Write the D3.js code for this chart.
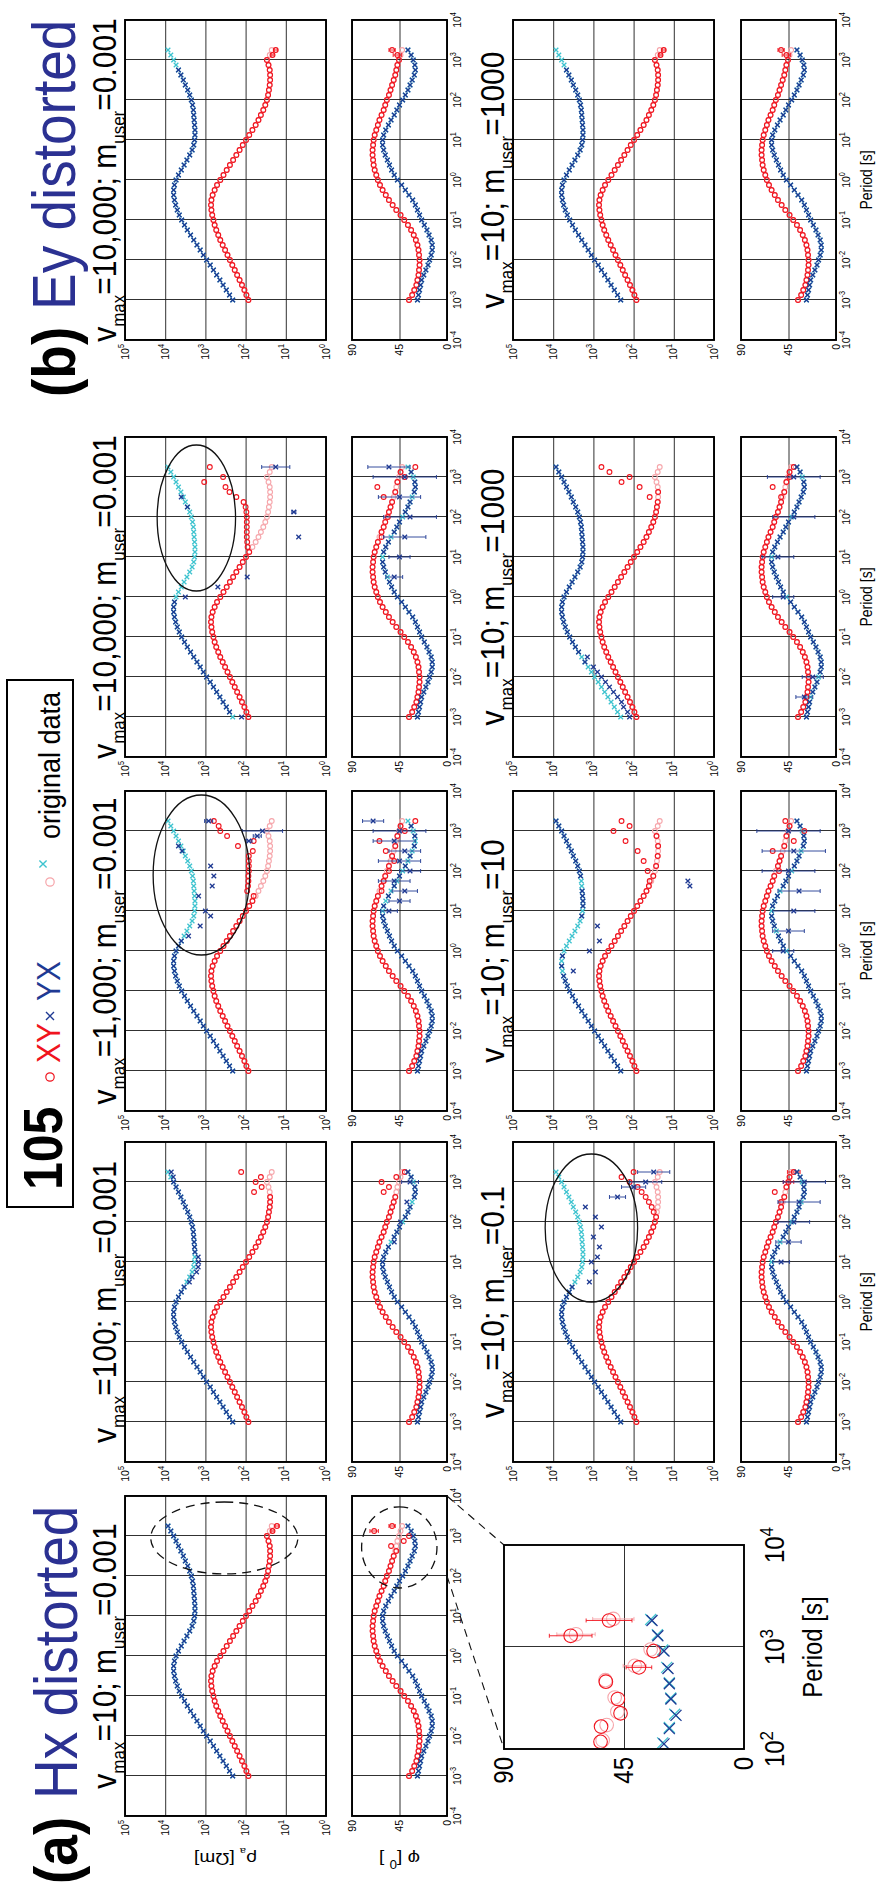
<!DOCTYPE html>
<html><head><meta charset="utf-8">
<script src="https://cdn.jsdelivr.net/npm/d3@7"></script>
<style>
body{margin:0;background:#fff}
svg{display:block}
text{font-family:"Liberation Sans",Arial,Helvetica,sans-serif}
</style></head>
<body><svg id="c" width="884" height="1887"></svg>
<script>
// ---------------- DATA ----------------
const PER = [-3,-2.875,-2.75,-2.625,-2.5,-2.375,-2.25,-2.125,-2,-1.875,-1.75,-1.625,-1.5,-1.375,-1.25,-1.125,-1,-0.875,-0.75,-0.625,-0.5,-0.375,-0.25,-0.125,0,0.125,0.25,0.375,0.5,0.625,0.75,0.875,1,1.125,1.25,1.375,1.5,1.625,1.75,1.875,2,2.125,2.25,2.375,2.5,2.625,2.75,2.875,3,3.125,3.25];
const ORIG_XY_RHO = [1.93,1.98,2.03,2.09,2.15,2.21,2.27,2.33,2.39,2.45,2.51,2.57,2.63,2.68,2.73,2.77,2.80,2.83,2.85,2.86,2.85,2.82,2.77,2.71,2.63,2.55,2.47,2.39,2.31,2.23,2.15,2.07,1.99,1.91,1.83,1.75,1.68,1.62,1.56,1.51,1.47,1.44,1.42,1.40,1.39,1.39,1.40,1.43,1.47,1.40,1.35];
const ORIG_YX_RHO = [2.32,2.40,2.48,2.56,2.64,2.72,2.80,2.88,2.97,3.05,3.13,3.21,3.29,3.37,3.45,3.52,3.59,3.65,3.70,3.74,3.77,3.79,3.79,3.77,3.73,3.67,3.60,3.53,3.46,3.39,3.33,3.29,3.27,3.26,3.26,3.27,3.28,3.29,3.30,3.32,3.35,3.39,3.44,3.50,3.55,3.61,3.67,3.73,3.79,3.86,3.93];
const ORIG_XY_PHI = [36,33,31,29,28,27,26.5,26,26,26.5,27,28,29.5,31.5,34,37,40.5,44,48,51.5,55,58,61,63.5,65.5,67,68.5,69.5,70,70.5,70.5,70,69.5,68.5,67,65.5,64,62,60,58.5,57,55,53.5,52,50.5,49,48,47,45.5,44,42.5];
const ORIG_YX_PHI = [28,27,26,25,24,22,20,18,16.5,15,14,14,15,17,19,21.5,24,26,28,30,32.5,36,39.5,43,47,50,52.5,54.5,56.5,58.5,60,61,61,60,58,55.5,53,50,47.5,45,42,39.5,37,35,33,31,30,30.5,32,34,37];

const PANEL_COL   = [0,1,2,3,4,1,2,3,4];
const PANEL_ROW   = [0,0,0,0,0,1,1,1,1];
const PANEL_VMAX  = ['10','100','1,000','10,000','10,000','10','10','10','10'];
const PANEL_MUSER = ['0.001','0.001','0.001','0.001','0.001','0.1','10','1000','1000'];
// recovered data that differ from the original: [periodExp, value (null = not shown), error]
const PANEL_XY_RHO = [
  [[3.125,1.33,0.04],[3.25,1.22,0.05]],
  [[2.75,1.79],[2.875,1.6],[3,1.75],[3.125,1.62],[3.25,2.11]],
  [[1.375,1.80],[1.5,1.96],[1.625,1.94],[1.75,1.93],[1.875,1.93],[2,1.92],[2.125,1.92],[2.25,1.92],[2.375,1.92],[2.5,1.82],[2.625,2.19],[2.75,1.80],[2.875,2.46],[3,2.63],[3.125,2.67],[3.25,2.79]],
  [[1.25,1.95],[1.375,1.96],[1.5,1.97],[1.625,1.97],[1.75,1.97],[1.875,1.97],[2,1.97],[2.125,1.98],[2.25,2.0],[2.375,2.05],[2.5,2.23],[2.625,2.4],[2.75,2.5],[2.875,3.03],[3,2.56],[3.125,null],[3.25,2.89]],
  [[3.125,1.33,0.04],[3.25,1.25,0.04]],
  [[2.25,1.5],[2.375,1.55],[2.5,1.62],[2.625,1.7],[2.75,1.8],[2.875,1.9],[3,2.1],[3.125,2.3],[3.25,2.0]],
  [[1.75,1.6],[2,1.65],[2.25,1.75],[2.5,1.9],[2.75,2.2],[3,2.5],[3.125,2.1],[3.25,2.3]],
  [[2.5,1.6],[2.75,1.85],[2.875,2.3],[3,2.1],[3.125,2.6],[3.25,2.8]],
  [[3.125,1.33,0.04],[3.25,1.25,0.04]]
];
const PANEL_YX_RHO = [
  [],
  [[0.5,3.40],[0.625,3.33],[0.75,3.22],[0.875,3.18],[1,3.17],[1.125,3.18],[3.125,3.80],[3.25,3.85]],
  [[0.375,3.42],[0.5,null],[0.625,3.13],[0.75,null],[0.875,2.87],[1,3.0],[1.125,null],[1.25,null],[1.375,3.17],[1.5,null],[1.625,2.83],[1.75,null],[1.875,2.79],[2,null],[2.125,2.87],[2.25,null],[2.375,null],[2.5,3.58],[2.625,3.67],[2.75,1.92,0.08],[2.875,1.71,0.1],[3,1.58,0.5],[3.125,null],[3.25,2.92,0.1]],
  [[-3,2.1],[0,3.5],[0.125,null],[0.25,2.69],[0.375,null],[0.5,1.96],[0.625,null],[0.75,null],[0.875,null],[1,null],[1.125,null],[1.25,null],[1.375,null],[1.5,0.68],[1.625,null],[1.75,null],[1.875,null],[2,null],[2.125,0.8,0.05],[2.25,3.45],[2.375,null],[2.5,3.6],[2.625,null],[2.75,null],[2.875,null],[3,null],[3.125,null],[3.25,1.25,0.35]],
  [[2.875,null],[3,null],[3.125,null],[3.25,null]],
  [[0.5,3.1],[0.625,null],[0.75,2.95],[0.875,null],[1,3.05],[1.125,2.9],[1.25,null],[1.375,2.85],[1.5,null],[1.625,3.0],[1.75,null],[1.875,2.8],[2,null],[2.125,2.95],[2.25,null],[2.375,3.2],[2.5,null],[2.625,2.4,0.2],[2.75,null],[2.875,2.0,0.3],[3,1.7,0.4],[3.125,null],[3.25,1.5,0.4]],
  [[-0.5,3.5],[-0.25,null],[0,3.1],[0.125,null],[0.25,2.85],[0.375,null],[0.5,null],[0.625,2.9],[0.75,null],[1,null],[1.625,0.6],[1.75,0.65]],
  [[-3,2.1],[-2.875,2.15],[-2.75,2.25],[-2.625,2.3],[-2.5,2.4],[-2.375,2.5],[-2.25,2.6],[-2.125,2.7],[-2,2.8],[-1.875,2.9],[-1.75,3.0],[-1.5,3.15]],
  [[2.875,null],[3,null],[3.125,null],[3.25,null]]
];
const PANEL_XY_PHI = [
  [[2.625,48],[2.75,53],[2.875,41],[3,36],[3.125,69,4],[3.25,52,3]],
  [[2.75,60],[2.875,55],[3,62],[3.125,48],[3.25,40]],
  [[1.5,62],[1.75,60],[2,55],[2.25,50],[2.5,58],[2.75,64],[3,40],[3.25,30]],
  [[1.5,62],[2,56],[2.5,60],[2.75,66],[3,40],[3.25,30]],
  [[3.125,47,4],[3.25,52,3]],
  [[2.5,52],[2.75,58],[3,45,5],[3.25,40,6]],
  [[2,54],[2.5,60],[2.75,40],[3,30],[3.25,48]],
  [[2.5,52],[2.75,60],[3,44],[3.25,40]],
  [[3.125,47,4],[3.25,52,3]]
];
const PANEL_YX_PHI = [
  [],
  [[1.5,50],[2,44],[2.5,38],[3,35,8]],
  [[1,55,8],[1.25,45,10],[1.5,40,12],[1.75,50,15],[2,35,10],[2.25,45,20],[2.5,40,15],[2.75,50,20],[3,45,25],[3.25,70,10]],
  [[0.5,50,8],[1,45,10],[1.5,40,20],[2,35,25],[2.5,45,20],[3,40,30],[3.25,55,20]],
  [],
  [[1,52,8],[1.5,45,12],[2,40,15],[2.5,35,20],[3,30,20]],
  [[0,50,10],[0.5,45,15],[1,40,20],[1.5,35,20],[2,45,25],[2.5,40,30],[3,45,30]],
  [[-2.5,30,8],[-2,22,10],[0,50,10],[1,55,15],[2,40,20],[3,40,25]],
  []
];
const ELL_PANEL = [0,0,2,3,5];
const ELL_PART  = ['rho','phi','rho','rho','rho'];
const ELL_PER   = [[2.05,3.85],[1.7,3.73],[-0.1,3.9],[0.15,3.8],[0.0,3.7]];
const ELL_VAL   = [[0.7,4.36],[9.5,80.9],[1.9,4.3],[2.25,4.2],[1.9,4.2]];
const ELL_DASH  = [true,true,false,false,false];

const INSET_XY_PER = [2.07,2.22,2.35,2.49,2.66,2.80,2.96,3.11,3.26];
const INSET_XY_PHI = [53.8,53.6,46.3,47.3,51.8,39.4,33.9,65,50.6];
const INSET_XY_ERR = [0,0,0,0,0,4.8,0,8,8.6];
const INSET_OXY_PHI = [53,51.5,47.5,48.5,52,41,35,63,49];
const INSET_YX_PER = [2.05,2.2,2.33,2.49,2.64,2.79,2.96,3.11,3.26];
const INSET_YX_PHI = [30,28,25.5,27.4,28,28.5,30,32.3,34.5];
const INSET_OYX_PHI = [30.5,28,26,27.5,28,29,30.5,32.5,35];

const PERIOD_TICKS = [-4,-3,-2,-1,0,1,2,3,4];
const RHO_TICKS = [0,1,2,3,4,5];
const PHI_TICKS = [0,45,90];

// ---------------- LAYOUT ----------------
const W = 884, H = 1887, K = 1.12;
const COL_TOP = [1496, 1142, 791, 437, 20];
const PANEL_LEN = 320;
const RHO_V = [[125,326],[513,714]];
const PHI_V = [[352,447],[741,836]];
const C_RED = '#f0141e', C_BLUE = '#1f3a93', C_CYAN = '#3ec3cf', C_PINK = '#f6a5aa', C_TITLE = '#2b3192';

const svg = d3.select('#c');
svg.append('rect').attr('width',W).attr('height',H).attr('fill','#fff');
const root = svg.append('g').attr('transform',`translate(0,${H}) rotate(-90)`);

function label(parent, u, v, parts, o) {
  const size = o.size;
  const t = parent.append('text')
    .attr('transform',`translate(${u},${v}) scale(1,${K})${o.rot?` rotate(${o.rot})`:''}`)
    .attr('font-size',size).attr('text-anchor',o.anchor||'start')
    .attr('fill',o.fill||'#000').attr('font-weight',o.weight||'normal');
  let cur = 0;
  parts.forEach(p => {
    const [s, kind, fill] = Array.isArray(p) ? p : [p, 'n'];
    const ts = t.append('tspan').text(s);
    let target = 0, fs = size;
    if (kind === 'sub') { target = size*0.28; fs = o.sub || size*0.58; }
    if (kind === 'sup') { target = -size*0.42; fs = o.sup || size*0.7; }
    ts.attr('dy', target - cur).attr('font-size', fs);
    if (fill) ts.attr('fill', fill);
    cur = target;
  });
  return t;
}
function pow10(e){ return Math.pow(10,e); }
function merge(base, mods) {
  const pts = PER.map((p,i)=>({p, v: base[i], e: 0}));
  const map = new Map(pts.map(d=>[d.p,d]));
  (mods||[]).forEach(([p,v,e,extra])=>{
    if (!extra && map.has(p)) { const d = map.get(p); if (v===null) d.v = null; else { d.v = v; d.e = e||0; } }
    else pts.push({p, v, e: e||0});
  });
  return pts.filter(d=>d.v!==null);
}
function xMark(sel, s, color, w) {
  sel.append('path').attr('d',`M${-s},${-s}L${s},${s}M${-s},${s}L${s},${-s}`)
    .attr('stroke',color).attr('stroke-width',w).attr('fill','none');
}
function gridBox(g, x, y, vTop, vBot, xTicks, yTicks) {
  const u0 = x.range()[0], u1 = x.range()[1];
  const gx = g.append('g').attr('transform',`translate(0,${vBot})`)
    .call(d3.axisBottom(x).tickValues(xTicks).tickSize(-(vBot-vTop)).tickFormat(''));
  gx.select('.domain').remove();
  gx.selectAll('line').attr('stroke','#1a1a1a').attr('stroke-width',0.9);
  const gy = g.append('g').attr('transform',`translate(${u0},0)`)
    .call(d3.axisLeft(y).tickValues(yTicks).tickSize(-(u1-u0)).tickFormat(''));
  gy.select('.domain').remove();
  gy.selectAll('line').attr('stroke','#1a1a1a').attr('stroke-width',0.9);
}
function box(g, u0, u1, vTop, vBot) {
  g.append('rect').attr('x',u0).attr('y',vTop).attr('width',u1-u0).attr('height',vBot-vTop)
    .attr('fill','none').attr('stroke','#000').attr('stroke-width',1.9);
}
function drawSeries(g, x, yf, pts, kind, color, r) {
  const sg = g.append('g');
  pts.forEach(d=>{
    const u = x(pow10(d.p)), v = yf(d.v);
    if (d.e) {
      const va = yf(d.v - d.e), vb = yf(d.v + d.e);
      sg.append('line').attr('x1',u).attr('x2',u).attr('y1',va).attr('y2',vb).attr('stroke',color).attr('stroke-width',0.9);
      [va,vb].forEach(vv=>sg.append('line').attr('x1',u-2).attr('x2',u+2).attr('y1',vv).attr('y2',vv).attr('stroke',color).attr('stroke-width',0.9));
    }
    const m = sg.append('g').attr('transform',`translate(${u},${v})`);
    if (kind==='o') m.append('circle').attr('r',r).attr('fill','none').attr('stroke',color).attr('stroke-width',1.1);
    else xMark(m, r, color, 1.3);
  });
}
function drawPanel(i) {
  const col = PANEL_COL[i], row = PANEL_ROW[i];
  const top = COL_TOP[col];
  const u0 = H - top - PANEL_LEN, u1 = H - top;
  const x = d3.scaleLog().domain([1e-4,1e4]).range([u0,u1]);
  const yr = d3.scaleLog().domain([1,1e5]).range([RHO_V[row][1], RHO_V[row][0]]);
  const yp = d3.scaleLinear().domain([0,90]).range([PHI_V[row][1], PHI_V[row][0]]);
  const yrl = e => yr(pow10(Math.max(0,Math.min(5,e))));
  const ypc = e => yp(Math.max(0,Math.min(90,e)));
  const g = root.append('g');
  const xt = PERIOD_TICKS.map(pow10);
  gridBox(g, x, yr, RHO_V[row][0], RHO_V[row][1], xt, RHO_TICKS.map(pow10));
  gridBox(g, x, yp, PHI_V[row][0], PHI_V[row][1], xt, PHI_TICKS);
  drawSeries(g, x, yrl, merge(ORIG_XY_RHO), 'o', C_PINK, 2.4);
  drawSeries(g, x, yrl, merge(ORIG_YX_RHO), 'x', C_CYAN, 2.3);
  drawSeries(g, x, ypc, merge(ORIG_XY_PHI), 'o', C_PINK, 2.4);
  drawSeries(g, x, ypc, merge(ORIG_YX_PHI), 'x', C_CYAN, 2.3);
  drawSeries(g, x, yrl, merge(ORIG_XY_RHO, PANEL_XY_RHO[i]), 'o', C_RED, 2.4);
  drawSeries(g, x, yrl, merge(ORIG_YX_RHO, PANEL_YX_RHO[i]), 'x', C_BLUE, 2.3);
  drawSeries(g, x, ypc, merge(ORIG_XY_PHI, PANEL_XY_PHI[i]), 'o', C_RED, 2.4);
  drawSeries(g, x, ypc, merge(ORIG_YX_PHI, PANEL_YX_PHI[i]), 'x', C_BLUE, 2.3);
  box(g, u0, u1, RHO_V[row][0], RHO_V[row][1]);
  box(g, u0, u1, PHI_V[row][0], PHI_V[row][1]);
  RHO_TICKS.forEach(e=>label(g, u0-4, yr(pow10(e))+3.5, ['10',[String(e),'sup']], {size:10.5, anchor:'end'}));
  PHI_TICKS.forEach(d=>label(g, u0-4, yp(d)+3.5, [String(d)], {size:10.5, anchor:'end'}));
  PERIOD_TICKS.forEach(e=>label(g, x(pow10(e)), PHI_V[row][1]+14, ['10',[String(e),'sup']], {size:10.5, anchor:'middle'}));
  label(g, (u0+u1)/2, RHO_V[row][0]-9, ['v',['max','sub'],'=' + PANEL_VMAX[i] + '; m',['user','sub'],'=' + PANEL_MUSER[i]], {size:30, sub:17, anchor:'middle'});
  if (row===1) label(g, (u0+u1)/2, PHI_V[row][1]+36, ['Period [s]'], {size:14, anchor:'middle'});
  if (i===0) {
    label(g, u0-37, (RHO_V[0][0]+RHO_V[0][1])/2, ['ρ',['a','sub'],' [Ωm]'], {size:17, anchor:'middle', rot:-90});
    label(g, u0-37, (PHI_V[0][0]+PHI_V[0][1])/2, ['φ [',['0','sup'],['  ]','n']], {size:17, anchor:'middle', rot:-90});
  }
  return {x, yr, yp};
}
const scales = PANEL_COL.map((c,i)=>drawPanel(i));

ELL_PANEL.forEach((pi,j)=>{
  const s = scales[pi];
  const yf = ELL_PART[j]==='rho' ? (e=>s.yr(pow10(e))) : (e=>s.yp(e));
  const ua = s.x(pow10(ELL_PER[j][0])), ub = s.x(pow10(ELL_PER[j][1]));
  const va = yf(ELL_VAL[j][0]), vb = yf(ELL_VAL[j][1]);
  root.append('ellipse').attr('cx',(ua+ub)/2).attr('cy',(va+vb)/2)
    .attr('rx',Math.abs(ub-ua)/2).attr('ry',Math.abs(vb-va)/2)
    .attr('fill','none').attr('stroke','#111').attr('stroke-width',1.3)
    .attr('stroke-dasharray',ELL_DASH[j]?'9,6':null);
});

(function(){
  const xi = d3.scaleLog().domain([1e2,1e4]).range([138,342]);
  const yi = d3.scaleLinear().domain([0,90]).range([744,504]);
  const g = root.append('g');
  gridBox(g, xi, yi, 504, 744, [1e3], [45]);
  const s0 = scales[0];
  [[1e2,138],[1e4,342]].forEach(([p,u])=>{
    g.append('line').attr('x1',s0.x(p)).attr('y1',PHI_V[0][1]).attr('x2',u).attr('y2',504)
      .attr('stroke','#111').attr('stroke-width',1.1).attr('stroke-dasharray','8,6');
  });
  const mk = (pers, vals, errs) => pers.map((p,i)=>({p, v: vals[i], e: errs ? errs[i] : 0}));
  drawSeries(g, xi, v=>yi(v), mk(INSET_XY_PER.map(p=>p+0.015), INSET_OXY_PHI, INSET_XY_ERR.map(e=>e*0.9)), 'o', C_PINK, 6.8);
  drawSeries(g, xi, v=>yi(v), mk(INSET_YX_PER.map(p=>p+0.01), INSET_OYX_PHI), 'x', C_CYAN, 5.5);
  drawSeries(g, xi, v=>yi(v), mk(INSET_XY_PER, INSET_XY_PHI, INSET_XY_ERR), 'o', C_RED, 6.8);
  drawSeries(g, xi, v=>yi(v), mk(INSET_YX_PER, INSET_YX_PHI), 'x', C_BLUE, 5.5);
  box(g, 138, 342, 504, 744);
  [90,45,0].forEach(d=>label(g, 130, yi(d)+9, [String(d)], {size:24, anchor:'end'}));
  [2,3,4].forEach(e=>label(g, xi(pow10(e)), 784, ['10',[String(e),'sup']], {size:24, sup:17, anchor:'middle'}));
  label(g, 240, 822, ['Period [s]'], {size:24, anchor:'middle'});
})();

label(root, 3, 77, ['(a)'], {size:55, weight:'bold'});
label(root, 88, 77, ['Hx distorted'], {size:55, fill:C_TITLE});
label(root, 1490, 75, ['(b)'], {size:55, weight:'bold'});
label(root, 1577, 75, ['Ey distorted'], {size:55, fill:C_TITLE});

(function(){
  const g = root.append('g');
  g.append('rect').attr('x',680).attr('y',7).attr('width',527).attr('height',66)
    .attr('fill','#fff').attr('stroke','#000').attr('stroke-width',2);
  label(g, 697, 62, ['105'], {size:50, weight:'bold'});
  g.append('circle').attr('cx',810).attr('cy',50).attr('r',4.2).attr('fill','none').attr('stroke',C_RED).attr('stroke-width',1.2);
  label(g, 824, 60, ['XY'], {size:30, fill:C_RED});
  xMark(g.append('g').attr('transform','translate(871,50)'), 4, C_BLUE, 1.4);
  label(g, 886, 60, ['YX'], {size:30, fill:C_BLUE});
  g.append('circle').attr('cx',1005).attr('cy',50).attr('r',4.2).attr('fill','none').attr('stroke',C_PINK).attr('stroke-width',1.2);
  xMark(g.append('g').attr('transform','translate(1023,43)'), 3.6, C_CYAN, 1.4);
  label(g, 1048, 60, ['original data'], {size:27});
})();
</script></body></html>
